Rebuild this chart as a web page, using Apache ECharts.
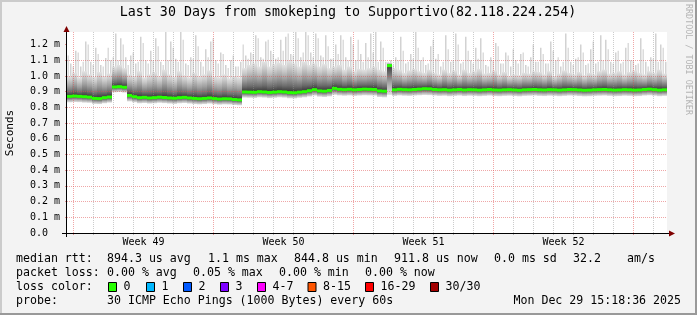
<!DOCTYPE html>
<html><head><meta charset="utf-8">
<script src="https://cdn.jsdelivr.net/npm/echarts@6/dist/echarts.min.js"></script>
<style>html,body{margin:0;padding:0;background:#f3f3f3}#c{width:697px;height:315px}</style>
</head><body><div id="c"></div>
<script>
const titleText = 'Last 30 Days from smokeping to Supportivo(82.118.224.254)';
const yAxisTitle = 'Seconds';
const stepHours = 6; // one smoke column per 6 hours, 120 columns over 30 days

const median = [
  0.870, 0.872, 0.870, 0.868, 0.865, 0.857, 0.856, 0.862, 0.866, 0.930,
  0.932, 0.928, 0.876, 0.868, 0.862, 0.864, 0.860, 0.862, 0.865, 0.863,
  0.860, 0.858, 0.862, 0.864, 0.860, 0.857, 0.855, 0.857, 0.860, 0.856,
  0.853, 0.855, 0.854, 0.850, 0.848, 0.898, 0.897, 0.896, 0.900, 0.898,
  0.895, 0.897, 0.900, 0.898, 0.894, 0.893, 0.897, 0.900, 0.906, 0.913,
  0.905, 0.903, 0.908, 0.921, 0.915, 0.913, 0.915, 0.912, 0.914, 0.916,
  0.915, 0.914, 0.905, 0.903, 1.066, 0.912, 0.915, 0.913, 0.912, 0.914,
  0.916, 0.919, 0.918, 0.914, 0.912, 0.913, 0.910, 0.912, 0.914, 0.911,
  0.913, 0.912, 0.910, 0.912, 0.914, 0.911, 0.910, 0.912, 0.913, 0.911,
  0.909, 0.912, 0.913, 0.914, 0.912, 0.911, 0.913, 0.912, 0.910, 0.912,
  0.914, 0.913, 0.911, 0.909, 0.910, 0.912, 0.913, 0.914, 0.912, 0.910,
  0.911, 0.913, 0.912, 0.910, 0.911, 0.914, 0.916, 0.913, 0.910, 0.912
];
const pingLow = [
  0.832, 0.834, 0.833, 0.830, 0.829, 0.822, 0.821, 0.826, 0.830, 0.896,
  0.898, 0.894, 0.838, 0.832, 0.826, 0.828, 0.824, 0.826, 0.829, 0.827,
  0.824, 0.822, 0.826, 0.828, 0.824, 0.821, 0.819, 0.821, 0.824, 0.820,
  0.817, 0.819, 0.818, 0.815, 0.813, 0.862, 0.861, 0.860, 0.864, 0.862,
  0.859, 0.861, 0.864, 0.862, 0.858, 0.857, 0.861, 0.864, 0.869, 0.875,
  0.868, 0.866, 0.870, 0.880, 0.876, 0.874, 0.876, 0.873, 0.875, 0.877,
  0.876, 0.875, 0.866, 0.864, 0.880, 0.873, 0.876, 0.874, 0.873, 0.875,
  0.877, 0.879, 0.878, 0.875, 0.873, 0.874, 0.871, 0.873, 0.875, 0.872,
  0.874, 0.873, 0.871, 0.873, 0.875, 0.872, 0.871, 0.873, 0.874, 0.872,
  0.870, 0.873, 0.874, 0.875, 0.873, 0.872, 0.874, 0.873, 0.871, 0.873,
  0.875, 0.874, 0.872, 0.870, 0.871, 0.873, 0.874, 0.875, 0.873, 0.871,
  0.872, 0.874, 0.873, 0.871, 0.872, 0.875, 0.877, 0.874, 0.871, 0.873
];
const smokeHigh = [
  1.000, 1.020, 0.990, 1.030, 1.010, 0.995, 1.025, 1.000, 1.015, 1.060,
  1.070, 1.050, 1.010, 1.000, 1.030, 0.990, 1.010, 1.025, 1.000, 1.040,
  1.010, 0.995, 1.030, 1.005, 0.990, 1.020, 1.000, 1.010, 1.035, 0.995,
  0.990, 1.010, 0.985, 1.000, 0.990, 1.050, 1.070, 1.080, 1.060, 1.090,
  1.060, 1.075, 1.085, 1.070, 1.095, 1.080, 1.060, 1.090, 1.070, 1.080,
  1.060, 1.075, 1.050, 1.060, 1.070, 1.040, 1.060, 1.030, 1.045, 1.040,
  1.050, 1.060, 1.040, 1.030, 1.085, 1.050, 1.040, 1.020, 1.035, 1.045,
  1.030, 1.020, 1.040, 1.020, 1.010, 1.040, 1.020, 1.035, 1.010, 1.040,
  1.020, 1.030, 1.045, 1.015, 1.020, 1.035, 1.010, 1.025, 1.000, 1.010,
  1.005, 1.020, 1.015, 1.030, 1.025, 1.010, 1.030, 1.000, 1.015, 1.035,
  1.020, 1.010, 1.025, 1.005, 1.020, 1.010, 1.030, 1.040, 1.015, 1.020,
  1.030, 1.010, 1.025, 1.035, 1.020, 1.010, 1.030, 1.020, 1.040, 1.015
];
const pingMax = [
  1.080, 1.160, 1.060, 1.220, 1.090, 1.180, 1.070, 1.115, 1.100, 1.270,
  1.240, 1.120, 1.130, 1.080, 1.250, 1.100, 1.160, 1.240, 1.090, 1.280,
  1.220, 1.110, 1.280, 1.080, 1.120, 1.260, 1.090, 1.170, 1.220, 1.100,
  1.150, 1.070, 1.100, 1.060, 1.090, 1.130, 1.150, 1.260, 1.120, 1.220,
  1.160, 1.110, 1.230, 1.250, 1.140, 1.280, 1.120, 1.280, 1.150, 1.270,
  1.130, 1.260, 1.110, 1.200, 1.260, 1.120, 1.250, 1.100, 1.140, 1.210,
  1.270, 1.280, 1.220, 1.090, 1.100, 1.120, 1.250, 1.080, 1.140, 1.280,
  1.100, 1.070, 1.190, 1.110, 1.060, 1.260, 1.090, 1.270, 1.080, 1.250,
  1.100, 1.180, 1.240, 1.070, 1.120, 1.210, 1.080, 1.150, 1.060, 1.100,
  1.140, 1.070, 1.120, 1.090, 1.180, 1.080, 1.220, 1.100, 1.060, 1.270,
  1.090, 1.110, 1.200, 1.070, 1.170, 1.080, 1.260, 1.230, 1.090, 1.150,
  1.080, 1.180, 1.100, 1.070, 1.240, 1.090, 1.120, 1.270, 1.200, 1.090
];
const pingMax2 = [
  1.130, 1.060, 1.150, 1.090, 1.200, 1.070, 1.140, 1.060, 1.180, 1.120,
  1.100, 1.200, 1.070, 1.150, 1.090, 1.210, 1.080, 1.100, 1.190, 1.070,
  1.100, 1.180, 1.090, 1.230, 1.070, 1.110, 1.190, 1.060, 1.120, 1.240,
  1.080, 1.140, 1.050, 1.130, 1.060, 1.200, 1.110, 1.140, 1.240, 1.110,
  1.230, 1.140, 1.120, 1.160, 1.270, 1.130, 1.240, 1.150, 1.260, 1.120,
  1.240, 1.120, 1.190, 1.110, 1.140, 1.230, 1.100, 1.200, 1.230, 1.090,
  1.120, 1.150, 1.090, 1.180, 1.090, 1.070, 1.100, 1.160, 1.090, 1.110,
  1.180, 1.120, 1.080, 1.230, 1.140, 1.090, 1.170, 1.100, 1.200, 1.090,
  1.160, 1.080, 1.110, 1.150, 1.060, 1.100, 1.190, 1.080, 1.130, 1.170,
  1.080, 1.150, 1.060, 1.200, 1.090, 1.140, 1.080, 1.160, 1.120, 1.090,
  1.180, 1.070, 1.120, 1.150, 1.080, 1.220, 1.090, 1.100, 1.170, 1.080,
  1.160, 1.090, 1.210, 1.100, 1.080, 1.170, 1.060, 1.110, 1.090, 1.180
];

const yTicks = [0, 0.1, 0.2, 0.3, 0.4, 0.5, 0.6, 0.7, 0.8, 0.9, 1.0, 1.1, 1.2];
const dayTicks = [31.8, 55.8, 79.8, 103.8, 127.8, 151.8, 199.8, 223.8, 247.8, 271.8, 295.8, 319.8,
  367.8, 391.8, 415.8, 439.8, 463.8, 487.8, 535.8, 559.8, 583.8, 607.8, 631.8, 655.8, 703.8];
const weekTicks = [7.8, 175.8, 343.8, 511.8, 679.8];
const weekMids = [91.8, 259.8, 427.8, 595.8];
const weekLabels = ['Week 49', 'Week 50', 'Week 51', 'Week 52'];

const rttLabel = 'median rtt:';
const rttRow = ['894.3 us avg', '1.1 ms max', '844.8 us min', '911.8 us now', '0.0 ms sd', '32.2', 'am/s'];
const lossLabel = 'packet loss:';
const lossRow = ['0.00 % avg', '0.05 % max', '0.00 % min', '0.00 % now'];
const lossColorLabel = 'loss color:';
const lossLabels = ['0', '1', '2', '3', '4-7', '8-15', '16-29', '30/30'];
const lossColors = ['#26ff00', '#00b8ff', '#0059ff', '#7e00ff', '#ff00ff', '#ff5500', '#ff0000', '#a10000'];
const probeLabel = 'probe:';
const probeText = '30 ICMP Echo Pings (1000 Bytes) every 60s';
const dateText = 'Mon Dec 29 15:18:36 2025';
const creditText = 'RRDTOOL / TOBI OETIKER';

// ---- layout ----
const MONO = '"DejaVu Sans Mono", monospace';
const rttX = [107, 208, 294, 394, 494, 573, 627];
const lossX = [107, 193, 279, 365];
const boxX = [108, 146, 183, 220, 257, 307.5, 365, 430];
const rowY = [259, 273, 287, 301];
const LEG = 11.6;

const smokeData = median.map((m, i) => [i * stepHours + stepHours / 2, pingLow[i], m, smokeHigh[i], pingMax[i], pingMax2[i]]);

const upperGrad = {type: 'linear', x: 0, y: 0, x2: 0, y2: 1, colorStops: [
  {offset: 0, color: '#e2e2e2'}, {offset: 0.22, color: '#cacaca'},
  {offset: 0.5, color: '#a0a0a0'}, {offset: 0.78, color: '#6c6c6c'}, {offset: 1, color: '#333333'}]};
const lowerGrad = {type: 'linear', x: 0, y: 0, x2: 0, y2: 1, colorStops: [
  {offset: 0, color: '#3c3c3c'}, {offset: 0.35, color: '#7c7c7c'},
  {offset: 0.7, color: '#b8b8b8'}, {offset: 1, color: '#dedede'}]};

function renderSmoke(params, api) {
  const t = api.value(0), h = stepHours / 2;
  const xa = api.coord([t - h, 0])[0], xb = api.coord([t + h, 0])[0];
  const yLo = api.coord([t, api.value(1)])[1];
  const yMed = api.coord([t, api.value(2)])[1];
  const yHi = api.coord([t, api.value(3)])[1];
  const ySpk = api.coord([t, api.value(4)])[1];
  const ySpk2 = api.coord([t, api.value(5)])[1];
  return {type: 'group', children: [
    {type: 'rect', shape: {x: xa + 3, y: ySpk, width: 1.5, height: Math.max(0, yHi - ySpk + 1)}, style: {fill: '#d2d2d2'}},
    {type: 'rect', shape: {x: xa + 0.5, y: ySpk2, width: 1.5, height: Math.max(0, yHi - ySpk2 + 1)}, style: {fill: '#dcdcdc'}},
    {type: 'rect', shape: {x: xa, y: yHi, width: xb - xa, height: yMed - yHi}, style: {fill: upperGrad}},
    {type: 'rect', shape: {x: xa, y: yMed, width: xb - xa, height: yLo - yMed}, style: {fill: lowerGrad}}
  ]};
}
function renderMedian(params, api) {
  const t = api.value(0), h = stepHours / 2;
  const xa = api.coord([t - h, 0])[0], xb = api.coord([t + h, 0])[0];
  const yMed = api.coord([t, api.value(2)])[1];
  return {type: 'rect', shape: {x: xa, y: yMed - 1.5, width: xb - xa, height: 3}, style: {fill: lossColors[0]}};
}

const G = [];
// frame shading
G.push({type: 'rect', shape: {x: 0, y: 0, width: 697, height: 2}, style: {fill: '#cbcbcb'}});
G.push({type: 'rect', shape: {x: 0, y: 0, width: 2, height: 315}, style: {fill: '#cbcbcb'}});
G.push({type: 'rect', shape: {x: 695, y: 0, width: 2, height: 315}, style: {fill: '#999999'}});
G.push({type: 'rect', shape: {x: 0, y: 313, width: 697, height: 2}, style: {fill: '#999999'}});
// title
G.push({type: 'text', x: 348, y: 13, style: {text: titleText, fontFamily: MONO, fontSize: 13.3, fill: '#000', textAlign: 'center', textVerticalAlign: 'middle'}});
// y title
G.push({type: 'text', x: 10, y: 133, rotation: Math.PI / 2, style: {text: yAxisTitle, fontFamily: MONO, fontSize: 11, fill: '#000', textAlign: 'center', textVerticalAlign: 'middle'}});
// credit
G.push({type: 'text', x: 688, y: 4, rotation: -Math.PI / 2, style: {text: creditText, fontFamily: MONO, fontSize: 8.4, fill: '#b4b4b4', textAlign: 'left', textVerticalAlign: 'middle'}});
// axes lines and arrows
G.push({type: 'line', z: 20, shape: {x1: 62, y1: 233.5, x2: 670, y2: 233.5}, style: {stroke: '#000', lineWidth: 1}});
G.push({type: 'polygon', z: 20, shape: {points: [[669, 230.5], [675, 233.5], [669, 236.5]]}, style: {fill: '#7f0000'}});
G.push({type: 'line', z: 20, shape: {x1: 66.5, y1: 237, x2: 66.5, y2: 31}, style: {stroke: '#000', lineWidth: 1}});
G.push({type: 'polygon', z: 20, shape: {points: [[63.5, 32], [66.5, 26], [69.5, 32]]}, style: {fill: '#7f0000'}});
// legend rows
function txt(s, x, y, align) {
  G.push({type: 'text', x: x, y: y, style: {text: s, fontFamily: MONO, fontSize: LEG, fill: '#000', textAlign: align || 'left', textVerticalAlign: 'middle'}});
}
txt(rttLabel, 16, rowY[0]);
rttRow.forEach((s, i) => txt(s, rttX[i], rowY[0]));
txt(lossLabel, 16, rowY[1]);
lossRow.forEach((s, i) => txt(s, lossX[i], rowY[1]));
txt(lossColorLabel, 16, rowY[2]);
lossLabels.forEach((s, i) => {
  G.push({type: 'rect', shape: {x: boxX[i] + 0.5, y: rowY[2] - 4.5, width: 8, height: 9}, style: {fill: lossColors[i], stroke: '#000', lineWidth: 1}});
  txt(s, boxX[i] + 15.5, rowY[2]);
});
txt(probeLabel, 16, rowY[3]);
txt(probeText, 107, rowY[3]);
txt(dateText, 681, rowY[3], 'right');

const chart = echarts.init(document.getElementById('c'), null, {renderer: 'canvas'});
chart.setOption({
  animation: false,
  backgroundColor: '#f3f3f3',
  grid: {left: 67, right: 30, top: 32, bottom: 82, show: true, backgroundColor: '#ffffff', borderWidth: 0},
  xAxis: [
    {type: 'value', min: 0, max: 720, position: 'bottom', z: 3,
     axisLine: {show: false},
     axisTick: {show: true, customValues: dayTicks, length: 2, lineStyle: {color: 'rgba(143,143,143,0.6)'}},
     axisLabel: {show: false},
     splitLine: {show: true, lineStyle: {color: 'rgba(143,143,143,0.46)', width: 1, type: [1, 1]}}},
    {type: 'value', min: 0, max: 720, position: 'bottom', z: 3,
     axisLine: {show: false},
     axisTick: {show: true, customValues: weekTicks, length: 2, lineStyle: {color: 'rgba(224,80,80,0.6)'}},
     axisLabel: {show: true, customValues: weekMids, margin: 4, fontFamily: MONO, fontSize: 10, color: '#000',
       formatter: v => { let k = 0; weekMids.forEach((m, i) => { if (Math.abs(m - v) < Math.abs(weekMids[k] - v)) k = i; }); return weekLabels[k]; }},
     splitLine: {show: true, lineStyle: {color: 'rgba(224,80,80,0.5)', width: 1, type: [1, 1]}}}
  ],
  yAxis: {type: 'value', min: 0, max: 1.28, interval: 0.1, z: 3,
    axisLine: {show: false},
    axisTick: {show: true, customValues: yTicks, length: 2, lineStyle: {color: 'rgba(224,80,80,0.6)'}},
    axisLabel: {customValues: yTicks, margin: 7, fontFamily: MONO, fontSize: 10, color: '#000',
      formatter: v => (Math.abs(v) < 1e-9 ? '0.0  ' : v.toFixed(1) + ' m')},
    splitLine: {show: true, showMaxLine: false, showMinLine: false, lineStyle: {color: 'rgba(224,80,80,0.5)', width: 1, type: [1, 1]}}},
  series: [
    {type: 'custom', renderItem: renderSmoke, data: smokeData, encode: {x: 0, y: [1, 2, 3, 4, 5]}, z: 1, silent: true},
    {type: 'custom', renderItem: renderMedian, data: smokeData, encode: {x: 0, y: 2}, z: 4, silent: true}
  ],
  graphic: G
});
</script></body></html>
